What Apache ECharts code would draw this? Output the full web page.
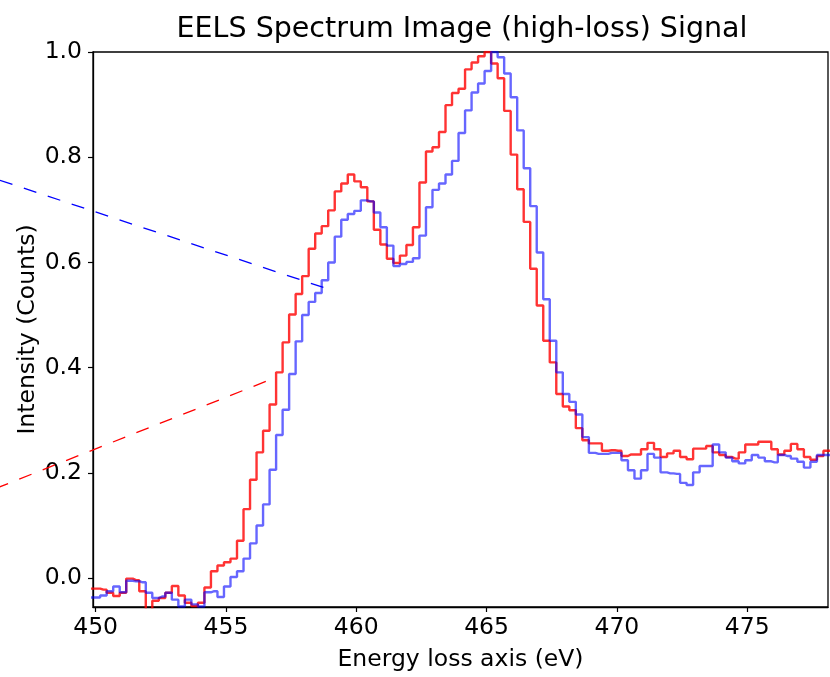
<!DOCTYPE html>
<html>
<head>
<meta charset="utf-8">
<script src="https://cdn.jsdelivr.net/npm/echarts@6/dist/echarts.min.js"></script>
<style>
  html, body { margin: 0; padding: 0; background: #fff; }
  #chart { width: 830px; height: 677px; }
</style>
</head>
<body>
<div id="chart"></div>
<script>
// Energy axis calibration (channel centres, eV)
const energyOffset = 449.8;
const energyScale = 0.25;

const xTickValues = [450, 455, 460, 465, 470, 475];
const yTickValues = [0.0, 0.2, 0.4, 0.6, 0.8, 1.0];

// Normalised intensities, one value per channel
const redIntensity = [
  -0.020, -0.020, -0.022, -0.028, -0.034, -0.028, -0.001, -0.004, -0.025, -0.068,
  -0.043, -0.038, -0.028, -0.015, -0.033, -0.047, -0.053, -0.047, -0.018, 0.013,
  0.024, 0.030, 0.037, 0.071, 0.131, 0.187, 0.239, 0.280, 0.330, 0.391,
  0.448, 0.501, 0.540, 0.574, 0.626, 0.655, 0.669, 0.699, 0.735, 0.750,
  0.767, 0.754, 0.743, 0.716, 0.662, 0.634, 0.607, 0.599, 0.613, 0.633,
  0.667, 0.752, 0.811, 0.819, 0.848, 0.899, 0.922, 0.930, 0.967, 0.980,
  0.992, 1.000, 0.978, 0.950, 0.888, 0.805, 0.739, 0.677, 0.588, 0.518,
  0.451, 0.410, 0.350, 0.326, 0.319, 0.285, 0.262, 0.256, 0.256, 0.242,
  0.243, 0.242, 0.232, 0.235, 0.235, 0.245, 0.257, 0.245, 0.230, 0.237,
  0.242, 0.230, 0.226, 0.246, 0.246, 0.251, 0.239, 0.234, 0.230, 0.227,
  0.239, 0.254, 0.254, 0.259, 0.259, 0.245, 0.235, 0.242, 0.255, 0.245,
  0.230, 0.225, 0.232, 0.242, 0.242
];

const blueIntensity = [
  -0.037, -0.037, -0.033, -0.025, -0.016, -0.027, -0.005, -0.006, -0.008, -0.028,
  -0.038, -0.035, -0.028, -0.041, -0.054, -0.041, -0.050, -0.054, -0.027, -0.025,
  -0.036, -0.016, 0.002, 0.013, 0.037, 0.066, 0.100, 0.140, 0.206, 0.272,
  0.320, 0.388, 0.450, 0.500, 0.525, 0.542, 0.566, 0.600, 0.649, 0.681,
  0.692, 0.698, 0.718, 0.716, 0.695, 0.667, 0.632, 0.593, 0.597, 0.601,
  0.608, 0.651, 0.705, 0.738, 0.750, 0.767, 0.793, 0.846, 0.889, 0.923,
  0.940, 0.964, 1.000, 0.990, 0.959, 0.914, 0.851, 0.779, 0.707, 0.619,
  0.530, 0.451, 0.391, 0.350, 0.335, 0.311, 0.268, 0.238, 0.236, 0.236,
  0.238, 0.238, 0.224, 0.205, 0.189, 0.205, 0.236, 0.229, 0.201, 0.199,
  0.198, 0.181, 0.177, 0.201, 0.213, 0.213, 0.254, 0.239, 0.229, 0.222,
  0.218, 0.224, 0.234, 0.229, 0.222, 0.220, 0.234, 0.232, 0.227, 0.221,
  0.210, 0.221, 0.234, 0.234, 0.234
];

// Dashed guide lines (inner end first, running out past the y axis)
const blueGuideX = [458.74, 445.0];
const blueGuideY = [0.5525, 0.778];
const redGuideX = [456.53, 445.0];
const redGuideY = [0.3737, 0.1475];

const toPairs = (vals) => vals.map((v, i) => [energyOffset + energyScale * i, v]);

const font = 'DejaVu Sans';
const chart = echarts.init(document.getElementById('chart'), null, { renderer: 'canvas' });

chart.setOption({
  animation: false,
  backgroundColor: '#ffffff',
  title: {
    text: 'EELS Spectrum Image (high-loss) Signal',
    left: 457,
    textAlign: 'center',
    top: 10,
    textStyle: { fontFamily: font, fontSize: 28.5, fontWeight: 'normal', color: '#000' }
  },
  grid: {
    left: 93, right: 2, top: 52, bottom: 68,
    show: true, borderColor: '#000', borderWidth: 1.3
  },
  xAxis: {
    type: 'value',
    min: 449.9,
    max: 478.1,
    name: 'Energy loss axis (eV)',
    nameLocation: 'middle',
    nameGap: 41,
    nameTextStyle: { fontFamily: font, fontSize: 23.5, color: '#000' },
    axisLine: { show: true, onZero: false, lineStyle: { color: '#000', width: 1.3 } },
    axisTick: { show: true, inside: false, length: 5, customValues: xTickValues, lineStyle: { color: '#000', width: 1.2 } },
    axisLabel: {
      customValues: xTickValues,
      margin: 9,
      fontFamily: font, fontSize: 23.5, color: '#000',
      formatter: (v) => String(v)
    },
    splitLine: { show: false }
  },
  yAxis: {
    type: 'value',
    min: -0.055,
    max: 1.0,
    name: 'Intensity (Counts)',
    nameLocation: 'middle',
    nameRotate: 90,
    nameGap: 53,
    nameMoveOverlap: false,
    nameTextStyle: { fontFamily: font, fontSize: 23.5, color: '#000' },
    axisLine: { show: true, onZero: false, lineStyle: { color: '#000', width: 1.3 } },
    axisTick: { show: true, inside: false, length: 5, customValues: yTickValues, lineStyle: { color: '#000', width: 1.2 } },
    axisLabel: {
      customValues: yTickValues,
      margin: 11,
      fontFamily: font, fontSize: 23.5, color: '#000',
      formatter: (v) => v.toFixed(1)
    },
    splitLine: { show: false }
  },
  series: [
    {
      type: 'line',
      step: 'middle',
      data: toPairs(redIntensity),
      showSymbol: false,
      lineStyle: { color: 'rgba(255,0,0,0.8)', width: 2.4 },
      z: 2
    },
    {
      type: 'line',
      step: 'middle',
      data: toPairs(blueIntensity),
      showSymbol: false,
      lineStyle: { color: 'rgba(0,0,255,0.6)', width: 2.4 },
      z: 3
    }
  ]
});

// The guide lines run outside the plotting area, so they are drawn as
// graphic polylines placed through the chart's own coordinate conversion.
function guide(xs, ys, color) {
  const pts = xs.map((x, i) => chart.convertToPixel({ gridIndex: 0 }, [x, ys[i]]));
  return {
    type: 'polyline',
    shape: { points: pts },
    style: { stroke: color, lineWidth: 1.3, lineDash: [13.2, 12], fill: null },
    z: 10,
    silent: true
  };
}

chart.setOption({
  graphic: [
    guide(blueGuideX, blueGuideY, '#0000ff'),
    guide(redGuideX, redGuideY, '#ff0000')
  ]
});
</script>
</body>
</html>
